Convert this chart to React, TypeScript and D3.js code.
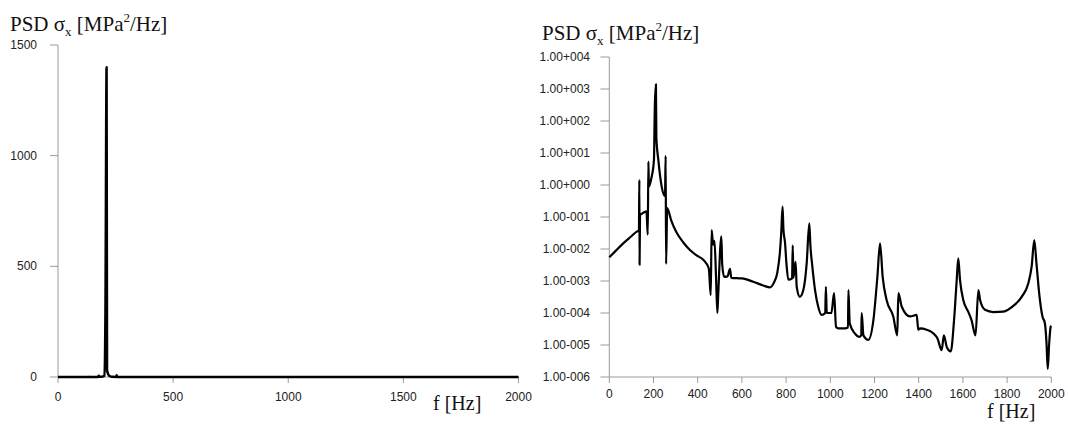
import React from "react";
import * as d3 from "d3";

// Frequencies [Hz] and PSD values [MPa^2/Hz]
const freqHz = [
  0, 30, 63, 100, 124, 134, 136, 137, 139, 150, 168, 174, 177, 179, 190, 202, 206, 211, 213, 222,
  237, 252, 255, 257, 262, 280, 305, 335, 365, 395, 425, 450, 459, 463, 470, 476, 483, 489, 493, 507,
  511, 520, 535, 546, 552, 600, 651, 700, 727, 745, 760, 772, 778, 784, 788, 795, 802, 810, 827, 830,
  833, 843, 848, 862, 878, 893, 905, 910, 918, 931, 945, 961, 977, 980, 984, 1005, 1017, 1026, 1036, 1066,
  1080, 1082, 1088, 1111, 1131, 1140, 1142, 1150, 1172, 1195, 1213, 1225, 1237, 1255, 1285, 1303, 1308, 1323, 1361, 1391,
  1398, 1406, 1436, 1467, 1485, 1504, 1514, 1527, 1545, 1560, 1572, 1579, 1587, 1602, 1624, 1639, 1657, 1670, 1678, 1700,
  1738, 1783, 1828, 1866, 1896, 1911, 1923, 1933, 1945, 1960, 1971, 1978, 1984, 1990, 1997, 2000,
];
const psdValues = [
  5.5e-3, 8.9e-3, 1.5e-2, 2.5e-2, 3.5e-2, 3.8e-2, 1.45, 3.2e-3, 0.115, 0.13, 0.15, 2.8e-2, 5.4, 0.89, 1.6, 6.0, 290, 1400, 30, 6.0,
  0.89, 0.45, 8.1, 3.4e-3, 0.19, 7.9e-2, 3.2e-2, 1.6e-2, 9.3e-3, 6.3e-3, 4.6e-3, 2.5e-3, 3.6e-4, 3.9e-2, 1.35e-2, 1.8e-2, 1.3e-3, 1.0e-4, 4.0e-4, 2.5e-2,
  3.2e-3, 1.35e-3, 1.4e-3, 2.4e-3, 1.26e-3, 1.2e-3, 9.5e-4, 7.1e-4, 6.3e-4, 8.9e-4, 1.8e-3, 7.9e-3, 3.2e-2, 0.21, 4.0e-2, 1.6e-2, 3.2e-3, 1.1e-3, 1.2e-3, 1.3e-2,
  1.26e-3, 4.0e-3, 6.6e-4, 3.2e-4, 5.2e-4, 3.5e-3, 6.3e-2, 1.26e-2, 3.2e-3, 5.2e-4, 1.6e-4, 8.7e-5, 1.0e-4, 6.6e-4, 1.0e-4, 1.0e-4, 4.2e-4, 3.7e-5, 3.3e-5, 3.3e-5,
  3.5e-5, 5.2e-4, 4.8e-5, 2.3e-5, 1.8e-5, 2.0e-5, 1.0e-4, 2.0e-5, 1.45e-5, 6.0e-5, 1.35e-3, 1.5e-2, 1.35e-3, 2.5e-4, 7.8e-5, 2.0e-5, 4.2e-4, 1.6e-4, 7.8e-5, 8.7e-5,
  3.0e-5, 3.3e-5, 3.0e-5, 2.3e-5, 1.6e-5, 6.9e-6, 2.0e-5, 8.7e-6, 6.3e-6, 6.0e-5, 1.07e-3, 5.1e-3, 1.07e-3, 2.5e-4, 1.1e-4, 6.0e-5, 2.0e-5, 5.2e-4, 2.5e-4, 1.26e-4,
  1.07e-4, 1.1e-4, 1.66e-4, 3.2e-4, 8.5e-4, 2.8e-3, 1.9e-2, 3.5e-3, 4.2e-4, 7.8e-5, 4.8e-5, 1.26e-5, 1.8e-6, 1.0e-5, 3.7e-5, 4.0e-5,
];

const leftXTicks = [0, 500, 1000, 1500, 2000];
const leftYTicks = [0, 500, 1000, 1500];
const rightXTicks = [0, 200, 400, 600, 800, 1000, 1200, 1400, 1600, 1800, 2000];
const rightYTicks = [1e4, 1e3, 1e2, 1e1, 1e0, 1e-1, 1e-2, 1e-3, 1e-4, 1e-5, 1e-6];
const rightYLabels = [
  "1.00+004", "1.00+003", "1.00+002", "1.00+001", "1.00+000", "1.00-001",
  "1.00-002", "1.00-003", "1.00-004", "1.00-005", "1.00-006",
];

const points = freqHz.map((f, i) => ({ f, v: psdValues[i] }));

const AXIS = "#9a9a9a";
const TICKFONT = "'Liberation Sans', Arial, sans-serif";
const SERIF = "'Liberation Serif', 'Times New Roman', serif";

function Title({ x, y }: { x: number; y: number }) {
  return (
    <text x={x} y={y} fontFamily={SERIF} fontSize={21} fill="#111">
      PSD σ
      <tspan dy={5} fontSize={13}>x</tspan>
      <tspan dy={-5}> [MPa</tspan>
      <tspan dy={-9} fontSize={13}>2</tspan>
      <tspan dy={9}>/Hz]</tspan>
    </text>
  );
}

export default function App() {
  // Left chart: linear scale
  const lx = d3.scaleLinear().domain([0, 2000]).range([58, 518.5]);
  const ly = d3.scaleLinear().domain([0, 1500]).range([377, 45]);
  const leftLine = d3
    .line<{ f: number; v: number }>()
    .x((d) => lx(d.f))
    .y((d) => ly(d.v))
    .curve(d3.curveMonotoneX);

  // Right chart: log scale
  const rx = d3.scaleLinear().domain([0, 2000]).range([609.3, 1051.3]);
  const ry = d3.scaleLog().domain([1e-6, 1e4]).range([377, 57]);
  const rightLine = d3
    .line<{ f: number; v: number }>()
    .x((d) => rx(d.f))
    .y((d) => ry(d.v))
    .curve(d3.curveMonotoneX);

  return (
    <svg
      width={1068}
      height={427}
      style={{ position: "absolute", left: 0, top: 0, background: "#fff" }}
    >
      <rect x={0} y={0} width={1068} height={427} fill="#fff" />

      {/* ---------- Left chart ---------- */}
      <Title x={10} y={31} />
      <line x1={lx(0)} x2={lx(0)} y1={ly(1500)} y2={ly(0)} stroke={AXIS} strokeWidth={1} />
      <line x1={lx(0)} x2={lx(2000)} y1={ly(0)} y2={ly(0)} stroke={AXIS} strokeWidth={1} />
      {leftYTicks.map((t) => (
        <g key={"ly" + t}>
          <line x1={50} x2={lx(0)} y1={ly(t)} y2={ly(t)} stroke={AXIS} />
          <text
            x={37}
            y={ly(t) + 4}
            textAnchor="end"
            fontFamily={TICKFONT}
            fontSize={12}
            fill="#222"
          >
            {t}
          </text>
        </g>
      ))}
      {leftXTicks.map((t) => (
        <g key={"lx" + t}>
          <line x1={lx(t)} x2={lx(t)} y1={ly(0)} y2={ly(0) + 6} stroke={AXIS} />
          <text
            x={lx(t)}
            y={401}
            textAnchor="middle"
            fontFamily={TICKFONT}
            fontSize={12}
            fill="#222"
          >
            {t}
          </text>
        </g>
      ))}
      <text x={433} y={410} fontFamily={SERIF} fontSize={20} fill="#111">
        f [Hz]
      </text>
      <path
        d={leftLine(points) || ""}
        fill="none"
        stroke="#000"
        strokeWidth={2.5}
        strokeLinejoin="round"
      />

      {/* ---------- Right chart ---------- */}
      <Title x={542} y={40} />
      <line x1={rx(0)} x2={rx(0)} y1={ry(1e4)} y2={ry(1e-6)} stroke={AXIS} strokeWidth={1} />
      <line x1={rx(0)} x2={rx(2000)} y1={ry(1e-6)} y2={ry(1e-6)} stroke={AXIS} strokeWidth={1} />
      {rightYTicks.map((t, i) => (
        <g key={"ry" + i}>
          <line x1={600.5} x2={rx(0)} y1={ry(t)} y2={ry(t)} stroke={AXIS} />
          <text
            x={590}
            y={ry(t) + 4}
            textAnchor="end"
            fontFamily={TICKFONT}
            fontSize={12}
            fill="#222"
          >
            {rightYLabels[i]}
          </text>
        </g>
      ))}
      {rightXTicks.map((t) => (
        <g key={"rx" + t}>
          <line x1={rx(t)} x2={rx(t)} y1={ry(1e-6)} y2={ry(1e-6) + 6} stroke={AXIS} />
          <text
            x={rx(t)}
            y={398}
            textAnchor="middle"
            fontFamily={TICKFONT}
            fontSize={12}
            fill="#222"
          >
            {t}
          </text>
        </g>
      ))}
      <text x={987} y={418} fontFamily={SERIF} fontSize={20} fill="#111">
        f [Hz]
      </text>
      <path
        d={rightLine(points) || ""}
        fill="none"
        stroke="#000"
        strokeWidth={2.2}
        strokeLinejoin="round"
      />
    </svg>
  );
}
